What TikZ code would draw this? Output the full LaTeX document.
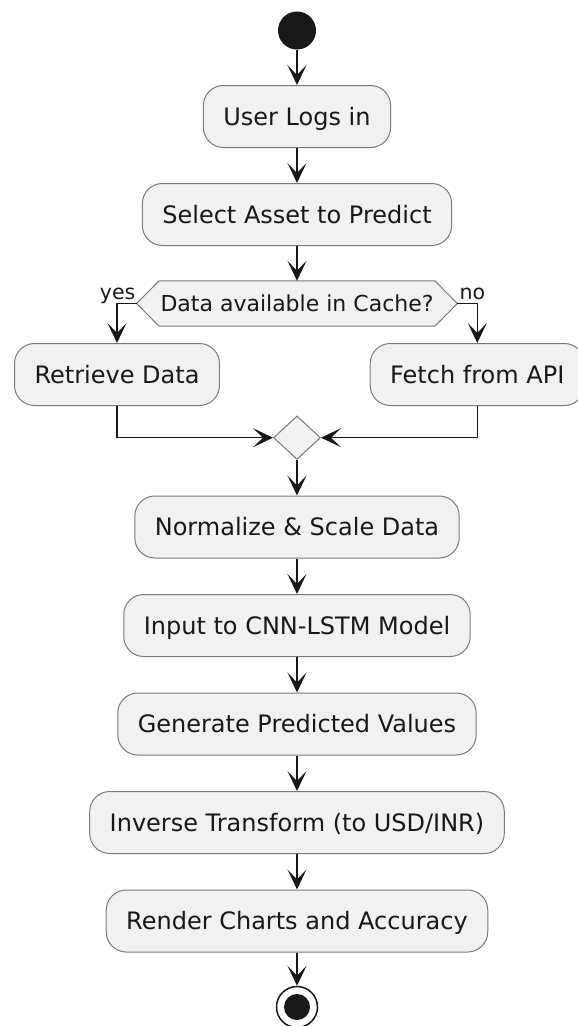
\documentclass[tikz,border=0pt]{standalone}
\usepackage{fontspec}
\setmainfont{DejaVu Sans}
\usetikzlibrary{arrows.meta,shapes.geometric,backgrounds}
\definecolor{boxfill}{HTML}{F1F1F1}
\definecolor{ink}{HTML}{181818}
\definecolor{edge}{HTML}{7A7A7A}
\begin{document}
\begin{tikzpicture}[x=1pt,y=-1pt,
  act/.style={draw=edge, fill=boxfill, line width=1pt, rounded corners=20pt,
    minimum height=62pt, inner xsep=20pt, inner ysep=0pt,
    text height=17.5pt, text depth=0pt, text=ink,
    font=\fontsize{24}{28}\selectfont},
  dectext/.style={inner sep=0pt, minimum width=275.4pt, minimum height=45pt,
    text height=16pt, text depth=0pt, text=ink, font=\fontsize{22}{26}\selectfont},
  hexpath/.style={draw=edge, fill=boxfill, line width=1pt},
  mergebox/.style={diamond, draw=edge, fill=boxfill, line width=1pt, inner sep=0pt,
    minimum width=47pt, minimum height=43.5pt},
  flow/.style={draw=ink, line width=1.5pt, -{Stealth[length=20pt,width=19pt,inset=10pt]}},
  lbl/.style={font=\fontsize{20.5}{24}\selectfont, inner sep=0pt, text=ink}]
\clip (0,0) rectangle (578,1026);
\path[use as bounding box] (0,0) rectangle (578,1026);

\node[circle, fill=ink, minimum size=38pt, inner sep=0pt] (start) at (297,30.5) {};
\node[act] (login) at (297,116.5) {User Logs in};
\node[act] (select) at (297,214.5) {Select Asset to Predict};
\node[dectext] (dec) at (297,303.5) {Data available in Cache?};
\coordinate (decL) at ([xshift=-22.5pt]dec.west);
\coordinate (decR) at ([xshift=22.5pt]dec.east);
\begin{scope}[on background layer]
  \draw[hexpath] (decL) -- (dec.north west) -- (dec.north east) -- (decR)
    -- (dec.south east) -- (dec.south west) -- cycle;
\end{scope}
\node[lbl, anchor=base east] (yes) at ([shift={(-1pt,4pt)}]decL) {yes};
\node[lbl, anchor=base west] (no) at ([shift={(2pt,4pt)}]decR) {no};
\node[act] (ret) at (117,374.5) {Retrieve Data};
\node[act] (fetch) at (477.3,374.5) {Fetch from API};
\node[mergebox] (merge) at (297,437.7) {};
\node[act] (norm) at (297,527) {Normalize \& Scale Data};
\node[act] (input) at (297,625.5) {Input to CNN-LSTM Model};
\node[act] (gen) at (297,724) {Generate Predicted Values};
\node[act] (inv) at (297,822.5) {Inverse Transform (to USD/INR)};
\node[act] (render) at (297,921) {Render Charts and Accuracy};
\node[circle, draw=ink, fill=white, line width=1.5pt, minimum size=41pt, inner sep=0pt] (end) at (297,1007) {};
\fill[ink] (end.center) circle (13pt);

\draw[flow] (start) -- (login);
\draw[flow] (login) -- (select);
\draw[flow] (select) -- (dec);
\draw[flow] (decL) -| (ret.north);
\draw[flow] (decR) -| (fetch.north);
\draw[flow] (ret.south) |- (merge.west);
\draw[flow] (fetch.south) |- (merge.east);
\draw[flow] (merge) -- (norm);
\draw[flow] (norm) -- (input);
\draw[flow] (input) -- (gen);
\draw[flow] (gen) -- (inv);
\draw[flow] (inv) -- (render);
\draw[flow] (render) -- (end);
\end{tikzpicture}
\end{document}
